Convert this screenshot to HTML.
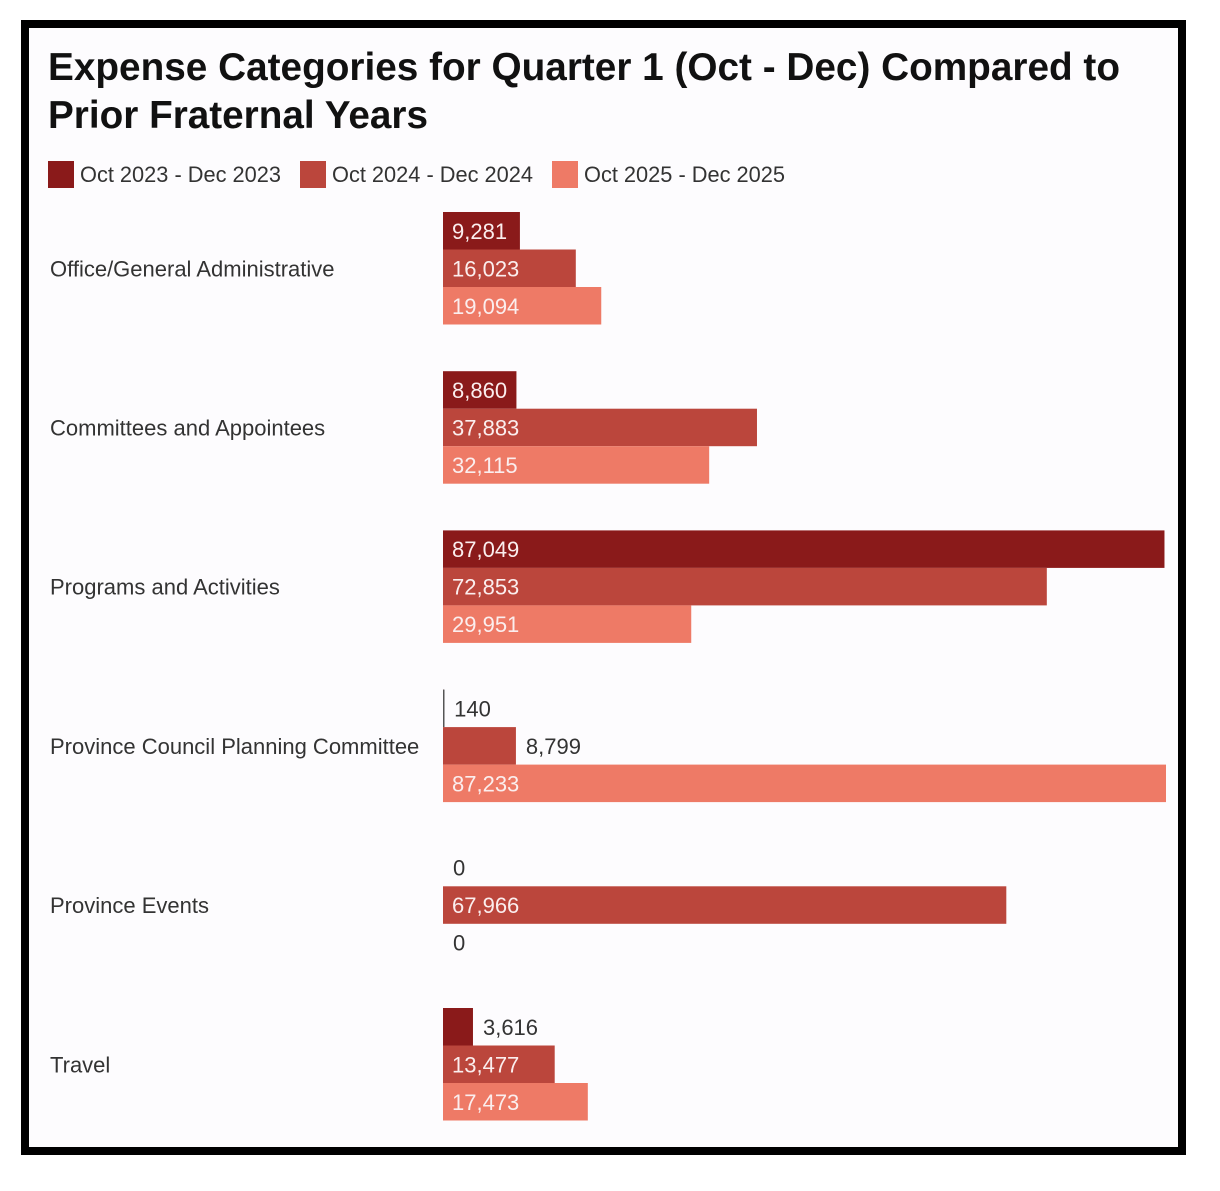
<!DOCTYPE html>
<html><head><meta charset="utf-8">
<style>
html,body{margin:0;padding:0;background:#fff;}
svg{display:block;font-family:"Liberation Sans",sans-serif;}
</style></head>
<body>
<svg id="chart" width="1220" height="1191" viewBox="0 0 1220 1191">
  <rect x="25" y="24" width="1157" height="1127" fill="#fdfcfe" stroke="#000" stroke-width="8"/>
  <text x="48" y="80" font-size="39" font-weight="bold" fill="#111" textLength="1072" lengthAdjust="spacingAndGlyphs">Expense Categories for Quarter 1 (Oct - Dec) Compared to</text>
  <text x="48" y="128" font-size="39" font-weight="bold" fill="#111" textLength="380" lengthAdjust="spacingAndGlyphs">Prior Fraternal Years</text>
  <g id="legend"></g>
  <g id="bars"></g>
</svg>
<script>
const categories = ["Office/General Administrative","Committees and Appointees","Programs and Activities","Province Council Planning Committee","Province Events","Travel"];
const seriesNames = ["Oct 2023 - Dec 2023","Oct 2024 - Dec 2024","Oct 2025 - Dec 2025"];
const series2023 = [9281, 8860, 87049, 140, 0, 3616];
const series2024 = [16023, 37883, 72853, 8799, 67966, 13477];
const series2025 = [19094, 32115, 29951, 87233, 0, 17473];
const colors = ["#8a1a1a", "#bb463c", "#ee7a66"];

const NS = "http://www.w3.org/2000/svg";
const allSeries = [series2023, series2024, series2025];
const x0 = 443, xMaxPx = 1166;
const maxVal = Math.max(...allSeries.flat());
const xScale = v => (v / maxVal) * (xMaxPx - x0);
const groupTop0 = 212, groupStep = 159.2, barH = 37.5;
const yBar = (ci, si) => groupTop0 + ci * groupStep + si * barH;
const fmt = v => v.toLocaleString("en-US");

function mk(tag, attrs, parent) {
  const el = document.createElementNS(NS, tag);
  for (const k in attrs) el.setAttribute(k, attrs[k]);
  parent.appendChild(el);
  return el;
}

const legend = document.getElementById("legend");
const legendX = [48, 300, 552];
seriesNames.forEach((name, i) => {
  const r = mk("rect", {x: legendX[i], y: 161, width: 26, height: 27, fill: colors[i]}, legend);
  
  
  const t = mk("text", {x: legendX[i] + 32, y: 182, "font-size": 22, fill: "#333", textLength: 201, lengthAdjust: "spacingAndGlyphs"}, legend);
  t.textContent = name;
  
  
});

const g = document.getElementById("bars");
categories.forEach((cat, ci) => {
  const lbl = mk("text", {x: 50, y: yBar(ci, 1) + barH / 2 + 8, "font-size": 22, fill: "#333"}, g);
  lbl.textContent = cat;
  
  
  allSeries.forEach((s, si) => {
    const v = s[ci];
    const w = xScale(v);
    const y = yBar(ci, si);
    const bar = mk("rect", {x: x0, y: y, width: Math.max(w, 0), height: barH, fill: colors[si]}, g);
    
    
    if (v > 0 && w < 3) {
      const ln = mk("rect", {x: x0, y: y, width: 1.5, height: barH, fill: "#555"}, g);
      
      
    }
    const inside = w >= 73.2;
    const t = mk("text", {x: inside ? x0 + 9 : x0 + w + 10, y: y + barH / 2 + 8, "font-size": 22, fill: inside ? "#fbeeee" : "#333"}, g);
    t.textContent = fmt(v);
    
    
  });
});
</script>
</body></html>
